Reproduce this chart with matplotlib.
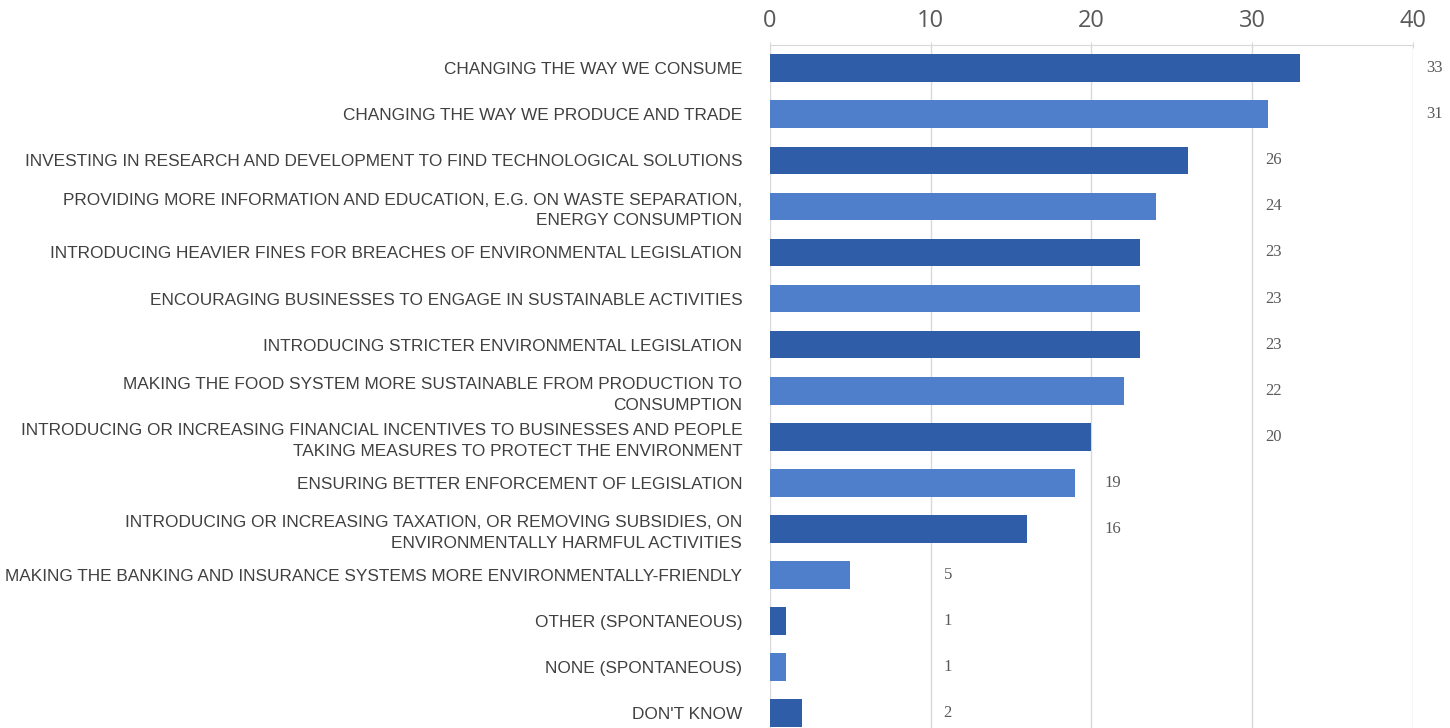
import numpy as np
import matplotlib
matplotlib.use("Agg")
import matplotlib.pyplot as plt

categories = [
    "CHANGING THE WAY WE CONSUME",
    "CHANGING THE WAY WE PRODUCE AND TRADE",
    "INVESTING IN RESEARCH AND DEVELOPMENT TO FIND TECHNOLOGICAL SOLUTIONS",
    "PROVIDING MORE INFORMATION AND EDUCATION, E.G. ON WASTE SEPARATION,\nENERGY CONSUMPTION",
    "INTRODUCING HEAVIER FINES FOR BREACHES OF ENVIRONMENTAL LEGISLATION",
    "ENCOURAGING BUSINESSES TO ENGAGE IN SUSTAINABLE ACTIVITIES",
    "INTRODUCING STRICTER ENVIRONMENTAL LEGISLATION",
    "MAKING THE FOOD SYSTEM MORE SUSTAINABLE FROM PRODUCTION TO\nCONSUMPTION",
    "INTRODUCING OR INCREASING FINANCIAL INCENTIVES TO BUSINESSES AND PEOPLE\nTAKING MEASURES TO PROTECT THE ENVIRONMENT",
    "ENSURING BETTER ENFORCEMENT OF LEGISLATION",
    "INTRODUCING OR INCREASING TAXATION, OR REMOVING SUBSIDIES, ON\nENVIRONMENTALLY HARMFUL ACTIVITIES",
    "MAKING THE BANKING AND INSURANCE SYSTEMS MORE ENVIRONMENTALLY-FRIENDLY",
    "OTHER (SPONTANEOUS)",
    "NONE (SPONTANEOUS)",
    "DON'T KNOW",
]
values = [33, 31, 26, 24, 23, 23, 23, 22, 20, 19, 16, 5, 1, 1, 2]
xticks = [0, 10, 20, 30, 40]

dark = "#2F5DA8"
light = "#4F7FCB"
colors = [dark if i % 2 == 0 else light for i in range(len(values))]

fig = plt.figure(figsize=(14.5, 7.28), dpi=100)
ax = fig.add_axes([0.531, 0.0, 0.4435, 0.938])

y = np.arange(len(values))
ax.barh(y, values, height=0.6, color=colors, zorder=3)

ax.set_xlim(0, 40)
ax.set_ylim(14.32, -0.5)
ax.xaxis.tick_top()
ax.set_xticks(xticks)
ax.set_xticklabels([str(t) for t in xticks], fontsize=17, color="#595959",
                   family=["Open Sans", "DejaVu Sans"])
ax.tick_params(axis="x", length=5, color="#D9D9D9", direction="inout", pad=6)
ax.tick_params(axis="y", length=0, pad=20)
ax.set_yticks(y)
ax.set_yticklabels(categories, fontsize=12.4, color="#404040",
                   family=["Liberation Sans", "DejaVu Sans"],
                   linespacing=1.45)
ax.grid(axis="x", color="#D9D9D9", linewidth=1, zorder=0)
for s in ["right", "bottom", "left"]:
    ax.spines[s].set_visible(False)
ax.spines["top"].set_color("#D9D9D9")

# value labels sit just right of the next gridline
for yi, v in zip(y, values):
    xl = (v // 10 + 1) * 10 + 0.8
    ax.text(xl, yi, str(v), va="center", ha="left", fontsize=12,
            color="#595959", family=["Liberation Serif", "DejaVu Serif"],
            clip_on=False)

fig.savefig("out.png", dpi=100, facecolor="white")
